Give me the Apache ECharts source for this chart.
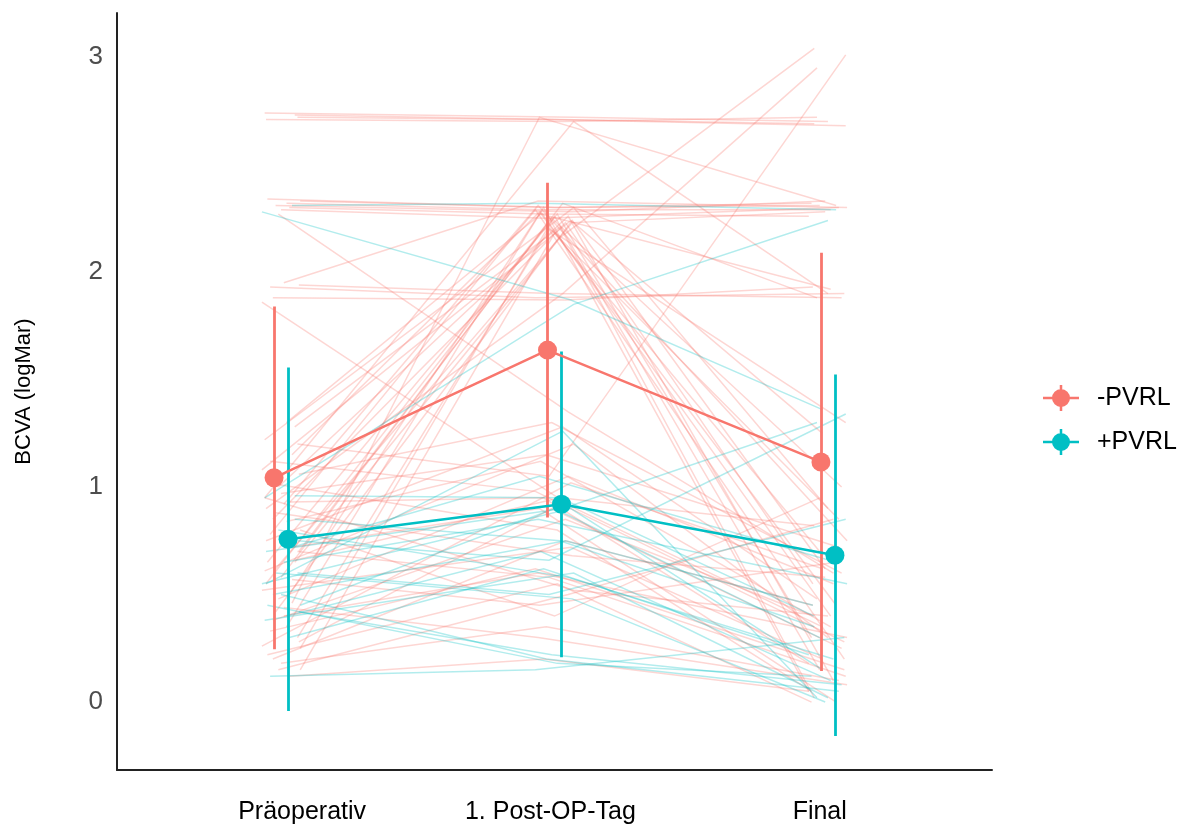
<!DOCTYPE html>
<html>
<head>
<meta charset="utf-8">
<title>BCVA (logMar)</title>
<script src="https://cdn.jsdelivr.net/npm/echarts@6/dist/echarts.min.js"></script>
<style>
  html, body { margin: 0; padding: 0; background: #ffffff; }
  #chart { width: 1197px; height: 825px; }
</style>
</head>
<body>
<div id="chart"></div>
<script>
// Time points and groups
const categories = ['Präoperativ', '1. Post-OP-Tag', 'Final'];
const groupNames = ['-PVRL', '+PVRL'];
const yTicks = [0, 1, 2, 3];

// Group means and standard deviations per time point
const meanMinus = [1.043, 1.637, 1.117];
const sdMinus   = [0.797, 0.778, 0.973];
const meanPlus  = [0.757, 0.920, 0.683];
const sdPlus    = [0.799, 0.711, 0.841];

// Individual eyes, -PVRL: [präop, post-op day 1, final]
const patientsMinus = [
  [2.74, 2.72, 2.70], [2.73, 2.71, 2.69], [2.72, 2.71, 2.68], [2.71, 2.70, 2.72],
  [2.33, 2.30, 2.31], [2.32, 2.29, 2.29], [2.31, 2.28, 2.33], [2.30, 2.27, 2.26],
  [2.29, 2.25, 2.30], [2.34, 2.30, 2.32],
  [1.94, 1.90, 1.88], [1.93, 1.88, 1.90], [1.88, 1.87, 1.93],
  [1.95, 2.33, 2.30], [2.27, 1.35, 0.60], [1.86, 0.91, 0.35], [0.46, 2.72, 2.31],
  [0.95, 2.70, 1.90], [0.65, 2.16, 3.04], [1.20, 1.05, 3.01], [0.90, 1.90, 2.95],
  [0.25, 2.26, 0.15], [0.35, 2.28, 0.40], [0.42, 2.24, 0.62], [0.50, 2.30, 0.05],
  [0.58, 2.22, 0.85], [0.65, 2.27, 0.30], [0.70, 2.25, 1.00], [0.78, 2.29, 0.20],
  [0.85, 2.23, 0.55], [0.92, 2.31, 0.75], [1.00, 2.26, 0.10], [1.08, 2.24, 1.25],
  [1.15, 2.28, 0.45], [1.22, 2.30, 0.90], [1.28, 2.21, 0.02], [0.30, 2.20, 1.30],
  [0.55, 2.32, 1.88], [0.15, 2.18, 0.70], [1.30, 2.27, 1.92], [0.62, 2.23, 2.28],
  [0.12, 0.20, 0.05], [0.18, 0.35, 0.10], [0.22, 0.55, 0.00], [0.28, 0.90, 0.25],
  [0.33, 0.62, 0.15], [0.38, 0.85, 0.40], [0.44, 0.30, 0.08], [0.48, 1.05, 0.55],
  [0.52, 0.72, 0.20], [0.57, 0.45, 0.65], [0.61, 1.20, 0.30], [0.66, 0.95, 0.82],
  [0.70, 0.58, 0.12], [0.75, 1.28, 0.48], [0.80, 0.40, 0.95], [0.84, 1.12, 0.35],
  [0.88, 0.68, 0.58], [0.93, 0.95, 0.18], [0.97, 1.15, 0.72], [1.02, 0.80, 0.05],
  [1.06, 1.30, 0.60], [1.12, 0.98, 0.28], [0.20, 0.75, 0.45], [0.40, 0.60, 0.30],
  [0.15, 0.50, 0.85], [0.26, 1.02, 0.62], [0.72, 0.90, 0.00], [0.95, 0.52, 0.40]
];

// Individual eyes, +PVRL: [präop, post-op day 1, final]
const patientsPlus = [
  [2.28, 1.87, 1.36], [2.31, 2.32, 2.29], [0.95, 1.85, 2.24], [0.96, 0.95, 0.40],
  [0.75, 0.66, 1.34], [0.55, 1.26, 0.02], [0.45, 0.90, 0.30], [0.40, 0.70, 0.10],
  [0.60, 0.48, 0.00], [0.30, 0.62, 0.22], [0.50, 0.20, 0.05], [0.45, 0.18, 0.12],
  [0.42, 0.22, 0.08], [0.12, 0.15, 0.30], [0.50, 0.75, 0.45], [0.65, 0.85, 0.55],
  [0.80, 0.58, 0.20], [0.55, 0.90, 0.15], [0.72, 1.05, 0.65], [0.38, 0.60, 0.02],
  [0.85, 0.75, 0.35], [0.60, 0.50, 0.85], [0.70, 0.90, 1.30]
];

// Horizontal jitter offsets (axis units) cycled over the individual lines
const jitterSteps = [-0.06, 0.03, -0.01, 0.07, -0.04, 0.05, 0.00, -0.07, 0.02, -0.03, 0.06, -0.05, 0.04, -0.02, 0.01, -0.055, 0.065];

const RED = '#F8766D';
const CYAN = '#00BFC4';
const DODGE = 0.0256;
const FONT = '"Liberation Sans", Arial, Helvetica, sans-serif';

function individualLines(rows, seed) {
  return rows.map(function (r, i) {
    return {
      coords: r.map(function (v, t) {
        const j = jitterSteps[(i * 5 + t * 3 + seed) % jitterSteps.length];
        return [t + 1 + j, v];
      })
    };
  });
}

function errorBars(means, sds, shift) {
  return means.map(function (m, t) {
    return { coords: [[t + 1 + shift, m - sds[t]], [t + 1 + shift, m + sds[t]]] };
  });
}

function meanPoints(means, shift) {
  return means.map(function (m, t) { return [t + 1 + shift, m]; });
}

// Legend marker: point with horizontal and vertical range strokes
const LEGEND_ICON = 'path://M0,11.75H36V14.25H0Z M16.75,0H19.25V26H16.75Z M18,4A9,9 0 1,1 18,22A9,9 0 1,1 18,4Z';

const chart = echarts.init(document.getElementById('chart'), null, { renderer: 'canvas' });

chart.setOption({
  animation: false,
  backgroundColor: '#ffffff',
  grid: { left: 117, right: 205, top: 13, bottom: 54, containLabel: false },
  legend: {
    orient: 'vertical',
    left: 1038,
    top: 380,
    itemWidth: 36,
    itemHeight: 26,
    itemGap: 18,
    selectedMode: false,
    textStyle: { fontSize: 25, color: '#000000', fontFamily: FONT, padding: [0, 0, 0, 13] },
    data: [
      { name: groupNames[0], icon: LEGEND_ICON },
      { name: groupNames[1], icon: LEGEND_ICON }
    ]
  },
  xAxis: {
    type: 'value',
    min: 0.4,
    max: 3.6,
    splitLine: { show: false },
    axisTick: { show: false },
    axisLine: { show: true, onZero: false, lineStyle: { color: '#222222', width: 2 } },
    axisLabel: {
      customValues: [1.077, 1.985, 2.97],
      formatter: function (v) { return categories[Math.round(v) - 1]; },
      fontSize: 25,
      color: '#000000',
      fontFamily: FONT,
      margin: 30
    }
  },
  yAxis: {
    type: 'value',
    min: -0.316,
    max: 3.205,
    name: 'BCVA (logMar)',
    nameLocation: 'middle',
    nameGap: 82,
    nameTextStyle: { fontSize: 22, color: '#000000', fontFamily: FONT },
    splitLine: { show: false },
    axisTick: { show: false },
    axisLine: { show: true, onZero: false, lineStyle: { color: '#222222', width: 2 } },
    axisLabel: {
      customValues: yTicks,
      formatter: function (v) { return String(v); },
      fontSize: 26,
      color: '#4d4d4d',
      fontFamily: FONT,
      margin: 14
    }
  },
  series: [
    {
      type: 'lines',
      coordinateSystem: 'cartesian2d',
      polyline: true,
      silent: true,
      z: 1,
      lineStyle: { color: RED, width: 1.5, opacity: 0.3 },
      data: individualLines(patientsMinus, 0)
    },
    {
      type: 'lines',
      coordinateSystem: 'cartesian2d',
      polyline: true,
      silent: true,
      z: 1,
      lineStyle: { color: CYAN, width: 1.5, opacity: 0.3 },
      data: individualLines(patientsPlus, 7)
    },
    {
      type: 'lines',
      coordinateSystem: 'cartesian2d',
      silent: true,
      z: 3,
      lineStyle: { color: RED, width: 2.8, opacity: 1 },
      data: errorBars(meanMinus, sdMinus, -DODGE)
    },
    {
      type: 'lines',
      coordinateSystem: 'cartesian2d',
      silent: true,
      z: 3,
      lineStyle: { color: CYAN, width: 2.8, opacity: 1 },
      data: errorBars(meanPlus, sdPlus, DODGE)
    },
    {
      type: 'line',
      silent: true,
      z: 4,
      symbol: 'none',
      lineStyle: { color: RED, width: 2.5 },
      data: meanPoints(meanMinus, -DODGE)
    },
    {
      type: 'line',
      silent: true,
      z: 4,
      symbol: 'none',
      lineStyle: { color: CYAN, width: 2.5 },
      data: meanPoints(meanPlus, DODGE)
    },
    {
      name: groupNames[0],
      type: 'scatter',
      z: 5,
      symbol: 'circle',
      symbolSize: 19,
      itemStyle: { color: RED, opacity: 1 },
      data: meanPoints(meanMinus, -DODGE)
    },
    {
      name: groupNames[1],
      type: 'scatter',
      z: 5,
      symbol: 'circle',
      symbolSize: 19,
      itemStyle: { color: CYAN, opacity: 1 },
      data: meanPoints(meanPlus, DODGE)
    }
  ]
});
</script>
</body>
</html>
